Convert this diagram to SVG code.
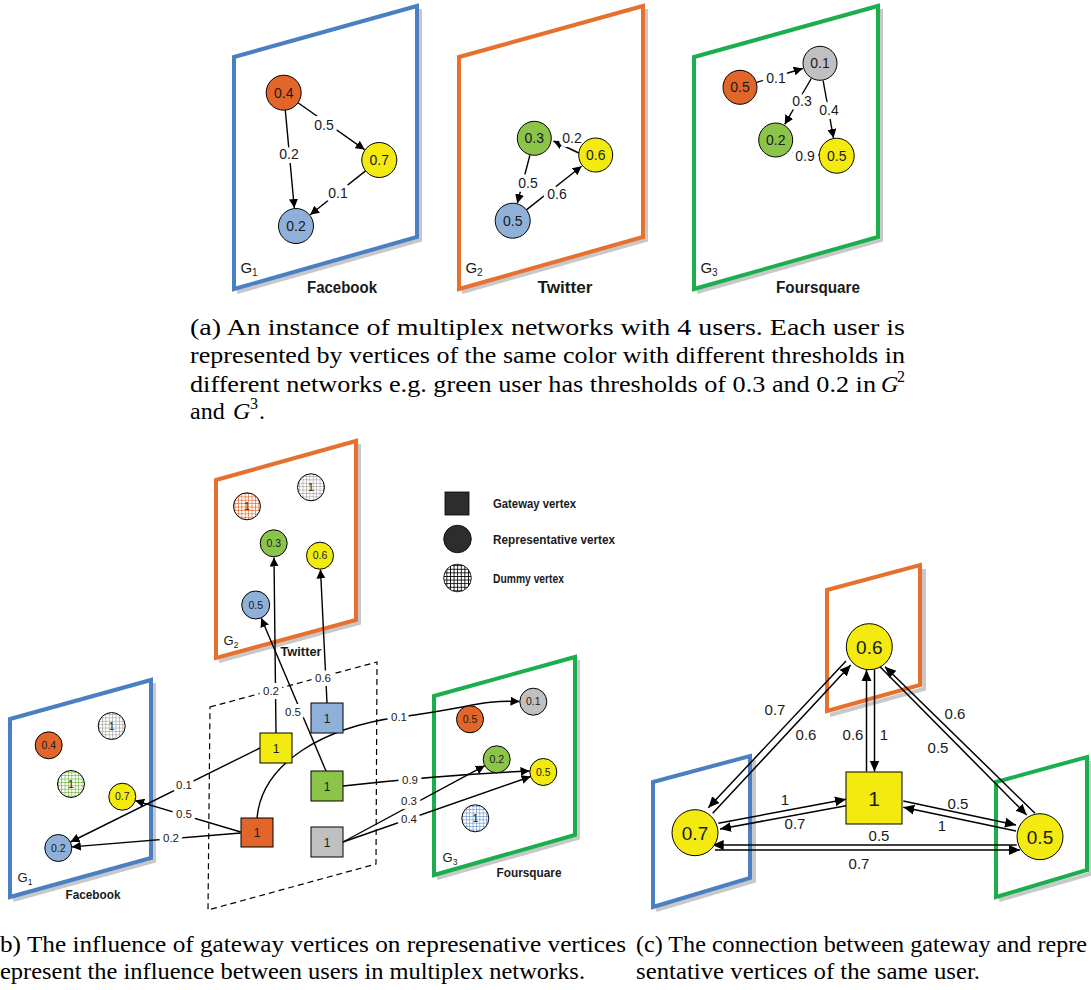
<svg xmlns="http://www.w3.org/2000/svg" width="1091" height="990" viewBox="0 0 1091 990">
<defs>
<style>
.fr{fill:none;stroke-width:4;stroke-linejoin:miter}
.sh{fill:none;stroke:#c8c8c8;stroke-width:4}
.fb{stroke:#4a7fc1}.tw{stroke:#e6702d}.fs{stroke:#1aae4c}
.nd{stroke:#000;stroke-width:1}
.or{fill:#e2652a}.ye{fill:#f3ea10}.gr{fill:#8cc449}.bl{fill:#8fb1d9}.gy{fill:#c0c0c0}
.e{fill:none;stroke:#000;stroke-width:1.4}
.e2{fill:none;stroke:#000;stroke-width:1.5}
.t{font-family:"Liberation Sans",Arial,sans-serif;fill:#1a1a1a;text-anchor:middle}
.lb{stroke:#fff;stroke-width:8;paint-order:stroke;stroke-linejoin:round}
.b{font-weight:bold}
.cap{font-family:"Liberation Serif","Times New Roman",serif;font-size:24px;fill:#000}
</style>
<marker id="ar" viewBox="0 0 10 10" refX="10" refY="5" markerWidth="9" markerHeight="9" markerUnits="userSpaceOnUse" orient="auto"><path d="M0,0L10,5L0,10z" fill="#000"/></marker>
<marker id="ar2" viewBox="0 0 10 10" refX="10" refY="5" markerWidth="11" markerHeight="11" markerUnits="userSpaceOnUse" orient="auto"><path d="M0,0.5L10,5L0,9.5z" fill="#000"/></marker>
<pattern id="pOr" width="3.4" height="3.4" patternUnits="userSpaceOnUse"><rect width="3.4" height="3.4" fill="#fff"/><path d="M0,0.3H3.4M0.3,0V3.4" stroke="#e2652a" stroke-width="0.8"/></pattern>
<pattern id="pGy" width="3.4" height="3.4" patternUnits="userSpaceOnUse"><rect width="3.4" height="3.4" fill="#fff"/><path d="M0,0.3H3.4M0.3,0V3.4" stroke="#9a9a9a" stroke-width="0.7"/></pattern>
<pattern id="pGr" width="3.4" height="3.4" patternUnits="userSpaceOnUse"><rect width="3.4" height="3.4" fill="#fff"/><path d="M0,0.3H3.4M0.3,0V3.4" stroke="#6fb43a" stroke-width="0.8"/></pattern>
<pattern id="pBl" width="3.4" height="3.4" patternUnits="userSpaceOnUse"><rect width="3.4" height="3.4" fill="#fff"/><path d="M0,0.3H3.4M0.3,0V3.4" stroke="#6f9ad0" stroke-width="0.8"/></pattern>
<pattern id="pBk" width="3.6" height="3.6" patternUnits="userSpaceOnUse"><rect width="3.6" height="3.6" fill="#fff"/><path d="M0,0.4H3.6M0.4,0V3.6" stroke="#000" stroke-width="0.9"/></pattern>
</defs>
<rect width="1091" height="990" fill="#fff"/>

<!-- ===== (a) frames ===== -->
<g id="a-frames">
<polyline class="sh" points="420,9 420,240 237,292"/>
<polygon class="fr fb" points="234,57 417,6 417,237 234,289"/>
<polyline class="sh" points="646,9 646,240 462,292"/>
<polygon class="fr tw" points="459,57 643,6 643,237 459,289"/>
<polyline class="sh" points="881,9 881,240 697,292"/>
<polygon class="fr fs" points="694,57 878,6 878,237 694,289"/>
<text class="t" x="249" y="273" style="font-size:15px">G<tspan style="font-size:10px" dy="3">1</tspan></text>
<text class="t b" x="342" y="293" style="font-size:16px" textLength="70" lengthAdjust="spacingAndGlyphs">Facebook</text>
<text class="t" x="474" y="273" style="font-size:15px">G<tspan style="font-size:10px" dy="3">2</tspan></text>
<text class="t b" x="565" y="293" style="font-size:16px" textLength="55" lengthAdjust="spacingAndGlyphs">Twitter</text>
<text class="t" x="709" y="273" style="font-size:15px">G<tspan style="font-size:10px" dy="3">3</tspan></text>
<text class="t b" x="818" y="293" style="font-size:16px" textLength="84" lengthAdjust="spacingAndGlyphs">Foursquare</text>
</g>

<!-- ===== (b) frames ===== -->
<g id="b-frames">
<polyline class="sh" points="359,444 359,623 219,661"/>
<polygon class="fr tw" points="216,480 356,441 356,620 216,658"/>
<polyline class="sh" points="154,683 154,861 13,900"/>
<polygon class="fr fb" points="10,719 151,680 151,858 10,897"/>
<polyline class="sh" points="578,660 578,838 437,878"/>
<polygon class="fr fs" points="434,696 575,657 575,835 434,875"/>
<polygon points="210,707 377,662 376,864 208,910" fill="none" stroke="#000" stroke-width="1.2" stroke-dasharray="6,4"/>
<text class="t" x="231" y="645" style="font-size:13px">G<tspan style="font-size:8.5px" dy="2.5">2</tspan></text>
<text class="t b" x="301" y="656" style="font-size:13px" textLength="41" lengthAdjust="spacingAndGlyphs">Twitter</text>
<text class="t" x="25" y="882" style="font-size:13px">G<tspan style="font-size:8.5px" dy="2.5">1</tspan></text>
<text class="t b" x="93" y="899" style="font-size:13px" textLength="55" lengthAdjust="spacingAndGlyphs">Facebook</text>
<text class="t" x="450" y="862" style="font-size:13px">G<tspan style="font-size:8.5px" dy="2.5">3</tspan></text>
<text class="t b" x="529" y="877" style="font-size:13px" textLength="65" lengthAdjust="spacingAndGlyphs">Foursquare</text>
</g>

<!-- ===== legend ===== -->
<g id="legend">
<rect x="445" y="492" width="24" height="23" fill="#2d2d2d" stroke="#000" stroke-width="0.8"/>
<circle cx="457.5" cy="539" r="13.8" fill="#2d2d2d" stroke="#000" stroke-width="0.8"/>
<circle cx="457.5" cy="578" r="13.8" fill="url(#pBk)" stroke="#000" stroke-width="0.8"/>
<text class="t b" x="493" y="507.5" style="font-size:12px;text-anchor:start" textLength="83" lengthAdjust="spacingAndGlyphs">Gateway vertex</text>
<text class="t b" x="493" y="543.5" style="font-size:12px;text-anchor:start" textLength="122" lengthAdjust="spacingAndGlyphs">Representative vertex</text>
<text class="t b" x="493" y="582.5" style="font-size:12px;text-anchor:start" textLength="71" lengthAdjust="spacingAndGlyphs">Dummy vertex</text>
</g>

<!-- ===== (c) frames ===== -->
<g id="c-frames">
<polyline class="sh" points="924,569 924,689 830,715"/>
<polygon class="fr tw" points="827,590 920,565 920,685 827,711"/>
<polyline class="sh" points="754,760 754,881 656,910"/>
<polygon class="fr fb" points="653,782 750,756 750,878 653,907"/>
<polyline class="sh" points="1090,761 1090,874 999,900"/>
<polygon class="fr fs" points="996,782 1087,757 1087,870 996,897"/>
</g>

<!-- ===== connectors ===== -->
<g id="connectors">
<!-- (a) Facebook -->
<line class="e" x1="298" y1="102.8" x2="364.6" y2="149.6" marker-end="url(#ar)"/>
<line class="e" x1="285.3" y1="110.1" x2="294.3" y2="208" marker-end="url(#ar)"/>
<line class="e" x1="365.6" y1="170.9" x2="310.1" y2="214.8" marker-end="url(#ar)"/>
<text class="t lb" x="324" y="130" style="font-size:14px">0.5</text>
<text class="t lb" x="289" y="159" style="font-size:14px">0.2</text>
<text class="t lb" x="338" y="198" style="font-size:14px">0.1</text>
<!-- (a) Twitter -->
<line class="e" x1="578.8" y1="153" x2="553.5" y2="141" marker-end="url(#ar)"/>
<line class="e" x1="529.9" y1="155.2" x2="517.3" y2="203.3" marker-end="url(#ar)"/>
<line class="e" x1="526.4" y1="209.9" x2="581.6" y2="166.2" marker-end="url(#ar)"/>
<text class="t lb" x="572" y="143" style="font-size:14px">0.2</text>
<text class="t lb" x="528" y="188" style="font-size:14px">0.5</text>
<text class="t lb" x="557" y="199" style="font-size:14px">0.6</text>
<!-- (a) Foursquare -->
<line class="e" x1="756.8" y1="82.3" x2="802.8" y2="68.5" marker-end="url(#ar)"/>
<line class="e" x1="811.3" y1="78.5" x2="784.7" y2="124.4" marker-end="url(#ar)"/>
<line class="e" x1="823.1" y1="80.5" x2="833.5" y2="138" marker-end="url(#ar)"/>
<line class="e" x1="792" y1="152.5" x2="819" y2="155"/>
<text class="t lb" x="776" y="83" style="font-size:14px">0.1</text>
<text class="t lb" x="802" y="106" style="font-size:14px">0.3</text>
<text class="t lb" x="829" y="115" style="font-size:14px">0.4</text>
<text class="t lb" x="805" y="161" style="font-size:14px">0.9</text>

<!-- (b) -->
<line class="e" x1="276" y1="733" x2="274" y2="557.5" marker-end="url(#ar)"/>
<line class="e" x1="327" y1="703" x2="320.5" y2="569.5" marker-end="url(#ar)"/>
<line class="e" x1="326" y1="771" x2="261.2" y2="617.9" marker-end="url(#ar)"/>
<line class="e" x1="260" y1="748" x2="70.4" y2="842" marker-end="url(#ar)"/>
<line class="e" x1="240.7" y1="832" x2="135.2" y2="800.6" marker-end="url(#ar)"/>
<line class="e" x1="240.7" y1="833" x2="71.8" y2="846.9" marker-end="url(#ar)"/>
<path class="e" d="M257,818 C262,762 325,727 400,717 S480,700 519.5,701.5" marker-end="url(#ar)"/>
<path class="e" d="M343,786 Q440,775 529.5,771" marker-end="url(#ar)"/>
<line class="e" x1="343" y1="842" x2="484.8" y2="765.7" marker-end="url(#ar)"/>
<line class="e" x1="343" y1="842" x2="530.6" y2="776.5" marker-end="url(#ar)"/>
<g style="font-size:11.5px">
<text class="t lb" x="271" y="695">0.2</text>
<text class="t lb" x="323" y="682">0.6</text>
<text class="t lb" x="293" y="716">0.5</text>
<text class="t lb" x="184" y="789">0.1</text>
<text class="t lb" x="184" y="818">0.5</text>
<text class="t lb" x="171" y="842">0.2</text>
<text class="t lb" x="399" y="721">0.1</text>
<text class="t lb" x="410" y="784">0.9</text>
<text class="t lb" x="409" y="805">0.3</text>
<text class="t lb" x="409" y="823">0.4</text>
</g>

<!-- (c) -->
<line class="e2" x1="866.5" y1="771.5" x2="866.5" y2="670" marker-end="url(#ar2)"/>
<line class="e2" x1="874.5" y1="669.5" x2="874.5" y2="771.5" marker-end="url(#ar2)"/>
<line class="e2" x1="712.7" y1="813.3" x2="850.7" y2="665" marker-end="url(#ar2)"/>
<line class="e2" x1="846" y1="661" x2="708.3" y2="807.7" marker-end="url(#ar2)"/>
<line class="e2" x1="880" y1="666.7" x2="1026.7" y2="815" marker-end="url(#ar2)"/>
<line class="e2" x1="1035" y1="813.3" x2="885" y2="666.7" marker-end="url(#ar2)"/>
<line class="e2" x1="718.3" y1="823.3" x2="846" y2="799.3" marker-end="url(#ar2)"/>
<line class="e2" x1="846" y1="805.7" x2="720" y2="829" marker-end="url(#ar2)"/>
<line class="e2" x1="903.3" y1="801" x2="1016" y2="825" marker-end="url(#ar2)"/>
<line class="e2" x1="1016" y1="831" x2="903.3" y2="807.3" marker-end="url(#ar2)"/>
<line class="e2" x1="1016.7" y1="845" x2="712.7" y2="845" marker-end="url(#ar2)"/>
<line class="e2" x1="715" y1="850" x2="1020" y2="850" marker-end="url(#ar2)"/>
<g style="font-size:15px">
<text class="t" x="775" y="715">0.7</text>
<text class="t" x="806" y="740">0.6</text>
<text class="t" x="853" y="740">0.6</text>
<text class="t" x="884" y="740">1</text>
<text class="t" x="955" y="719">0.6</text>
<text class="t" x="938" y="753">0.5</text>
<text class="t" x="785" y="805">1</text>
<text class="t" x="795" y="829">0.7</text>
<text class="t" x="958" y="809">0.5</text>
<text class="t" x="942" y="831">1</text>
<text class="t" x="879" y="841">0.5</text>
<text class="t" x="859" y="869">0.7</text>
</g>
</g>

<!-- ===== (a) nodes ===== -->
<g id="a-fb-04"><circle class="nd or" cx="283.7" cy="92.7" r="17.5"/><text class="t" x="283.7" y="97.7" style="font-size:14px">0.4</text></g>
<g id="a-fb-07"><circle class="nd ye" cx="379.3" cy="160" r="17.5"/><text class="t" x="379.3" y="165" style="font-size:14px">0.7</text></g>
<g id="a-fb-02"><circle class="nd bl" cx="296" cy="226" r="17.5"/><text class="t" x="296" y="231" style="font-size:14px">0.2</text></g>
<g id="a-tw-03"><circle class="nd gr" cx="534.3" cy="138.3" r="17"/><text class="t" x="534.3" y="143.3" style="font-size:14px">0.3</text></g>
<g id="a-tw-06"><circle class="nd ye" cx="595.7" cy="155" r="17"/><text class="t" x="595.7" y="160" style="font-size:14px">0.6</text></g>
<g id="a-tw-05"><circle class="nd bl" cx="512.7" cy="220.7" r="17.5"/><text class="t" x="512.7" y="225.7" style="font-size:14px">0.5</text></g>
<g id="a-fs-05o"><circle class="nd or" cx="740" cy="87.3" r="17"/><text class="t" x="740" y="92.3" style="font-size:14px">0.5</text></g>
<g id="a-fs-01"><circle class="nd gy" cx="820" cy="63.3" r="17"/><text class="t" x="820" y="68.3" style="font-size:14px">0.1</text></g>
<g id="a-fs-02"><circle class="nd gr" cx="775.7" cy="140" r="17"/><text class="t" x="775.7" y="145" style="font-size:14px">0.2</text></g>
<g id="a-fs-05y"><circle class="nd ye" cx="836.7" cy="155.7" r="17.5"/><text class="t" x="836.7" y="160.7" style="font-size:14px">0.5</text></g>

<!-- ===== (b) nodes ===== -->
<g style="font-size:10.5px">
<g id="b-tw-d1"><circle class="nd" fill="url(#pOr)" cx="247" cy="506.3" r="13.5"/><text class="t" x="247" y="510">1</text></g>
<g id="b-tw-d2"><circle class="nd" fill="url(#pGy)" cx="311" cy="487.3" r="13.5"/><text class="t" x="311" y="491">1</text></g>
<g id="b-tw-03"><circle class="nd gr" cx="273.7" cy="543.3" r="13.5"/><text class="t" x="273.7" y="547">0.3</text></g>
<g id="b-tw-06"><circle class="nd ye" cx="320" cy="555.7" r="13.5"/><text class="t" x="320" y="559.4">0.6</text></g>
<g id="b-tw-05"><circle class="nd bl" cx="255.7" cy="605" r="14"/><text class="t" x="255.7" y="608.7">0.5</text></g>
<g id="b-fb-d1"><circle class="nd" fill="url(#pGy)" cx="111.7" cy="726" r="13.5"/><text class="t" x="111.7" y="729.7">1</text></g>
<g id="b-fb-04"><circle class="nd or" cx="48.7" cy="745.3" r="13.5"/><text class="t" x="48.7" y="749">0.4</text></g>
<g id="b-fb-d2"><circle class="nd" fill="url(#pGr)" cx="71" cy="784" r="13.5"/><text class="t" x="71" y="787.7">1</text></g>
<g id="b-fb-07"><circle class="nd ye" cx="122.3" cy="796.7" r="13.5"/><text class="t" x="122.3" y="800.4">0.7</text></g>
<g id="b-fb-02"><circle class="nd bl" cx="58.3" cy="848" r="13.5"/><text class="t" x="58.3" y="851.7">0.2</text></g>
<g id="b-fs-01"><circle class="nd gy" cx="533.3" cy="701.7" r="13.5"/><text class="t" x="533.3" y="705.4">0.1</text></g>
<g id="b-fs-05o"><circle class="nd or" cx="470" cy="719.3" r="13.5"/><text class="t" x="470" y="723">0.5</text></g>
<g id="b-fs-02"><circle class="nd gr" cx="496.7" cy="759.3" r="13.5"/><text class="t" x="496.7" y="763">0.2</text></g>
<g id="b-fs-05y"><circle class="nd ye" cx="543.3" cy="772" r="13.5"/><text class="t" x="543.3" y="775.7">0.5</text></g>
<g id="b-fs-d1"><circle class="nd" fill="url(#pBl)" cx="475.3" cy="818.3" r="13.5"/><text class="t" x="475.3" y="822">1</text></g>
</g>
<g style="font-size:12px">
<g id="b-gw-yellow"><rect class="nd ye" x="260" y="733" width="32" height="30"/><text class="t" x="276" y="752.5">1</text></g>
<g id="b-gw-blue"><rect class="nd bl" x="311" y="703" width="32" height="30"/><text class="t" x="327" y="722.5">1</text></g>
<g id="b-gw-green"><rect class="nd gr" x="311" y="771" width="32" height="30"/><text class="t" x="327" y="790.5">1</text></g>
<g id="b-gw-orange"><rect class="nd or" x="241" y="818" width="32" height="29"/><text class="t" x="257" y="837">1</text></g>
<g id="b-gw-gray"><rect class="nd gy" x="311" y="827" width="32" height="30"/><text class="t" x="327" y="846.5">1</text></g>
</g>

<!-- ===== (c) nodes ===== -->
<g id="c-06"><circle class="nd ye" cx="869.3" cy="646.7" r="23"/><text class="t" x="869.3" y="653.5" style="font-size:19px">0.6</text></g>
<g id="c-07"><circle class="nd ye" cx="695" cy="832.7" r="23"/><text class="t" x="695" y="839.5" style="font-size:19px">0.7</text></g>
<g id="c-05"><circle class="nd ye" cx="1040" cy="836.7" r="23"/><text class="t" x="1040" y="843.5" style="font-size:19px">0.5</text></g>
<g id="c-gw"><rect class="nd ye" x="846" y="772" width="56" height="52"/><text class="t" x="874" y="805.5" style="font-size:21px">1</text></g>

<!-- ===== captions ===== -->
<g id="captions">
<text class="cap" x="190" y="335" textLength="715" lengthAdjust="spacingAndGlyphs">(a) An instance of multiplex networks with 4 users. Each user is</text>
<text class="cap" x="190" y="363" textLength="715" lengthAdjust="spacingAndGlyphs">represented by vertices of the same color with different thresholds in</text>
<text class="cap" x="190" y="392" textLength="686" lengthAdjust="spacingAndGlyphs">different networks e.g. green user has thresholds of 0.3 and 0.2 in</text>
<text class="cap" x="881" y="392" style="font-style:italic">G</text>
<text class="cap" x="897" y="382" style="font-size:16px">2</text>
<text class="cap" x="190" y="419">and</text>
<text class="cap" x="233" y="419" style="font-style:italic">G</text>
<text class="cap" x="250" y="409" style="font-size:16px">3</text>
<text class="cap" x="259" y="419">.</text>
<text class="cap" x="0" y="952" textLength="626" lengthAdjust="spacingAndGlyphs">b) The influence of gateway vertices on represenative vertices</text>
<text class="cap" x="0" y="979" textLength="585" lengthAdjust="spacingAndGlyphs">epresent the influence between users in multiplex networks.</text>
<text class="cap" x="636" y="952" textLength="451" lengthAdjust="spacingAndGlyphs">(c) The connection between gateway and repre</text>
<text class="cap" x="636" y="979" textLength="344" lengthAdjust="spacingAndGlyphs">sentative vertices of the same user.</text>
</g>
</svg>
